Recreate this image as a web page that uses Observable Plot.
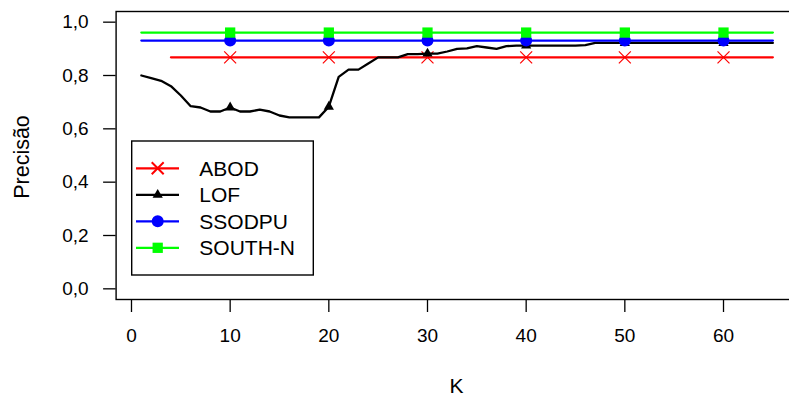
<!DOCTYPE html>
<html>
<head>
<meta charset="utf-8">
<script src="https://cdn.jsdelivr.net/npm/d3@7"></script>
<script src="https://cdn.jsdelivr.net/npm/@observablehq/plot@0.6"></script>
<style>
  html, body { margin: 0; padding: 0; background: #fff; }
  #chart { width: 789px; height: 406px; overflow: hidden; }
</style>
</head>
<body>
<div id="chart"></div>
<script>
// ---- data ----
const seriesNames = ["ABOD", "LOF", "SSODPU", "SOUTH-N"];
const seriesColors = ["#ff0000", "#000000", "#0000ff", "#00ff00"];
const seriesSymbols = ["times", "triangle", "circle", "square"];

const abodValue = 0.868;
const abodK = [4, 65];
const ssodpuValue = 0.931;
const ssodpuK = [1, 65];
const southValue = 0.961;
const southK = [1, 65];

// LOF precision for K = 1..65
const lofValues = [
  0.800, 0.790, 0.780, 0.760, 0.725, 0.685, 0.680, 0.665, 0.665, 0.680,
  0.665, 0.665, 0.672, 0.665, 0.650, 0.643, 0.643, 0.643, 0.643, 0.683,
  0.795, 0.822, 0.822, 0.845, 0.868, 0.868, 0.868, 0.880, 0.880, 0.882,
  0.882, 0.890, 0.900, 0.902, 0.910, 0.905, 0.900, 0.910, 0.912, 0.912,
  0.912, 0.912, 0.912, 0.912, 0.912, 0.914, 0.922, 0.922, 0.922, 0.922,
  0.922, 0.922, 0.922, 0.922, 0.922, 0.922, 0.922, 0.922, 0.922, 0.922,
  0.922, 0.922, 0.922, 0.922, 0.922
];

const markerK = [10, 20, 30, 40, 50, 60];
const xTicks = [0, 10, 20, 30, 40, 50, 60];
const yTicks = [0, 0.2, 0.4, 0.6, 0.8, 1.0];
const xLabel = "K";
const yLabel = "Precisão";

// ---- tables ----
const lof = lofValues.map((v, i) => ({k: i + 1, v}));
const abod = abodK.map(k => ({k, v: abodValue}));
const ssodpu = ssodpuK.map(k => ({k, v: ssodpuValue}));
const south = southK.map(k => ({k, v: southValue}));
const abodM = markerK.map(k => ({k, v: abodValue}));
const lofM = markerK.map(k => ({k, v: lofValues[k - 1]}));
const ssodpuM = markerK.map(k => ({k, v: ssodpuValue}));
const southM = markerK.map(k => ({k, v: southValue}));

const FONT = "'Liberation Sans', Arial, Helvetica, sans-serif";
const SW = 2.3;
const R = [5.5, 3.8, 6, 5.8];

const fmt = d => d.toFixed(1).replace(".", ",");

const chart = Plot.plot({
  width: 789,
  height: 406,
  marginLeft: 115.6,
  marginRight: -8.6,
  marginTop: 11,
  marginBottom: 107,
  style: {fontFamily: FONT, fontSize: "19px", color: "#000", background: "#fff"},
  x: {domain: [-1.56, 67.56], ticks: xTicks, tickSize: 13, tickPadding: 16, tickFormat: d => String(d), label: null},
  y: {domain: [-0.04, 1.04], ticks: yTicks, tickSize: 12.5, tickPadding: 15, tickFormat: fmt, label: null},
  marks: [
    Plot.frame({stroke: "#000", strokeWidth: 1.4}),
    Plot.line(abod, {x: "k", y: "v", stroke: seriesColors[0], strokeWidth: SW}),
    Plot.dot(abodM, {x: "k", y: "v", symbol: seriesSymbols[0], stroke: seriesColors[0], strokeWidth: 1.2, r: R[0]}),
    Plot.line(lof, {x: "k", y: "v", stroke: seriesColors[1], strokeWidth: SW}),
    Plot.dot(lofM, {x: "k", y: "v", symbol: seriesSymbols[1], fill: seriesColors[1], r: R[1]}),
    Plot.line(ssodpu, {x: "k", y: "v", stroke: seriesColors[2], strokeWidth: SW}),
    Plot.dot(ssodpuM, {x: "k", y: "v", symbol: seriesSymbols[2], fill: seriesColors[2], r: R[2]}),
    Plot.line(south, {x: "k", y: "v", stroke: seriesColors[3], strokeWidth: SW}),
    Plot.dot(southM, {x: "k", y: "v", symbol: seriesSymbols[3], fill: seriesColors[3], r: R[3]})
  ]
});

document.getElementById("chart").appendChild(chart);

const svg = d3.select(chart);
svg.selectAll("[aria-label$='axis'] path, [aria-label$='tick'] path").attr("stroke-width", 1.3);

// axis titles
svg.append("text")
  .attr("x", 456.6).attr("y", 385)
  .attr("text-anchor", "middle").attr("dominant-baseline", "central")
  .attr("font-family", FONT).attr("font-size", 21).attr("fill", "#000")
  .text(xLabel);
svg.append("text")
  .attr("transform", "translate(22,157) rotate(-90)")
  .attr("text-anchor", "middle").attr("dominant-baseline", "central")
  .attr("font-family", FONT).attr("font-size", 21.5).attr("fill", "#000")
  .text(yLabel);

// legend
const symType = {times: d3.symbolTimes, triangle: d3.symbolTriangle, circle: d3.symbolCircle, square: d3.symbolSquare};
const lg = svg.append("g");
lg.append("rect")
  .attr("x", 131.7).attr("y", 141).attr("width", 181.6).attr("height", 134)
  .attr("fill", "#fff").attr("stroke", "#000").attr("stroke-width", 1.4);
seriesNames.forEach((name, i) => {
  const cy = 168.3 + i * 26.5;
  const g = lg.append("g");
  g.append("line").attr("x1", 136).attr("x2", 179).attr("y1", cy).attr("y2", cy)
    .attr("stroke", seriesColors[i]).attr("stroke-width", SW);
  const s = seriesSymbols[i];
  const path = d3.symbol(symType[s], R[i] * R[i] * Math.PI)();
  const p = g.append("path").attr("d", path).attr("transform", `translate(157.7,${cy})`);
  if (s === "times") p.attr("fill", "none").attr("stroke", seriesColors[i]).attr("stroke-width", 2);
  else p.attr("fill", seriesColors[i]);
  g.append("text").attr("x", 199.3).attr("y", cy)
    .attr("text-anchor", "start")
    .attr("dominant-baseline", "central")
    .attr("font-family", FONT).attr("font-size", 21).attr("fill", "#000")
    .text(name);
});
</script>
</body>
</html>
